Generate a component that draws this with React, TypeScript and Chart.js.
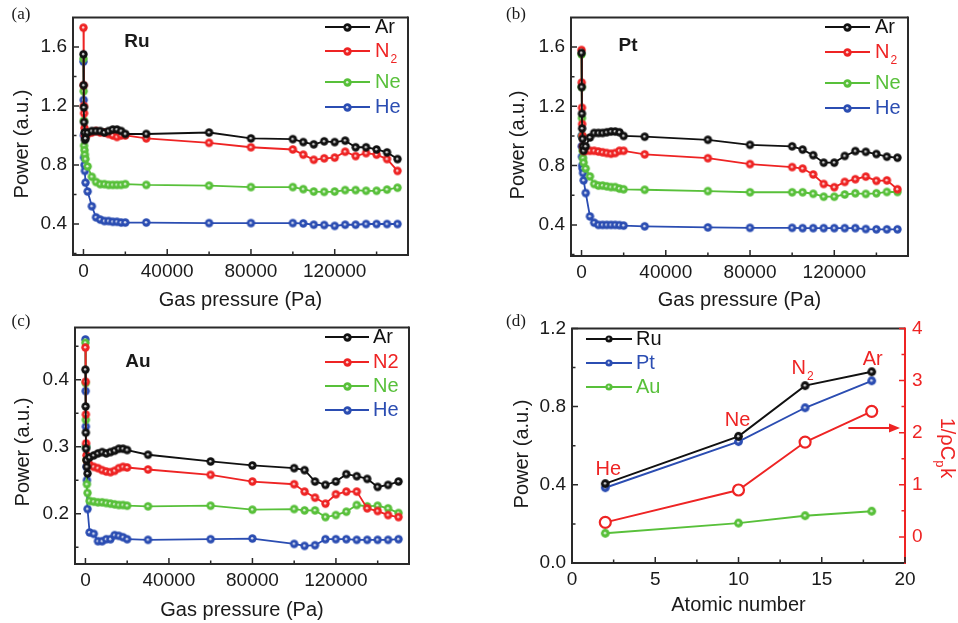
import React, { useEffect, useRef } from "react";
import { Chart, registerables } from "chart.js";

Chart.register(...registerables);

// ---------------- data ----------------
const PRESSURE = [0, 100, 200, 300, 500, 700, 1000, 2000, 4000, 6000, 8000, 10000, 12000, 14000, 16000, 18000, 20000, 30000, 60000, 80000, 100000, 105000, 110000, 115000, 120000, 125000, 130000, 135000, 140000, 145000, 150000];
const GAS_LABELS = ["Ar", "N2", "Ne", "He"];

const RU_AR = [1.55, 1.34, 1.19, 1.09, 1.02, 0.97, 0.98, 1.02, 1.03, 1.03, 1.03, 1.02, 1.03, 1.04, 1.04, 1.03, 1.01, 1.01, 1.02, 0.98, 0.975, 0.955, 0.94, 0.96, 0.955, 0.965, 0.92, 0.92, 0.905, 0.885, 0.84];
const RU_N2 = [1.73, 1.34, 1.2, 1.15, 1.05, 1.0, 1.0, 1.01, 1.02, 1.03, 1.02, 1.02, 1.01, 1.0, 0.99, 1.0, 1.0, 0.98, 0.95, 0.92, 0.905, 0.87, 0.835, 0.845, 0.85, 0.89, 0.86, 0.88, 0.87, 0.84, 0.76];
const RU_NE = [1.52, 1.3, 1.1, 0.93, 0.9, 0.87, 0.84, 0.79, 0.72, 0.685, 0.67, 0.67, 0.665, 0.665, 0.665, 0.665, 0.67, 0.665, 0.66, 0.65, 0.65, 0.636, 0.62, 0.618, 0.62, 0.63, 0.63, 0.625, 0.625, 0.633, 0.646];
const RU_HE = [1.5, 1.24, 1.0, 0.85, 0.8, 0.76, 0.68, 0.62, 0.52, 0.445, 0.43, 0.42, 0.42, 0.415, 0.415, 0.41, 0.41, 0.41, 0.406, 0.406, 0.406, 0.404, 0.395, 0.393, 0.387, 0.395, 0.395, 0.4, 0.4, 0.4, 0.4];

const PT_AR = [1.56, 1.33, 1.15, 1.05, 0.98, 0.93, 0.9, 0.93, 0.99, 1.02, 1.02, 1.02, 1.025, 1.03, 1.03, 1.025, 1.0, 0.995, 0.974, 0.94, 0.93, 0.908, 0.87, 0.82, 0.82, 0.865, 0.898, 0.893, 0.878, 0.86, 0.853];
const PT_N2 = [1.58, 1.36, 1.19, 1.08, 1.0, 0.93, 0.9, 0.9, 0.9, 0.9, 0.895, 0.89, 0.885, 0.88, 0.885, 0.9, 0.9, 0.876, 0.85, 0.81, 0.79, 0.78, 0.74, 0.676, 0.654, 0.69, 0.708, 0.726, 0.697, 0.7, 0.64];
const PT_NE = [1.55, 1.33, 1.12, 1.0, 0.9, 0.85, 0.82, 0.78, 0.727, 0.676, 0.665, 0.665, 0.66, 0.655, 0.655, 0.645, 0.64, 0.637, 0.628, 0.62, 0.62, 0.62, 0.61, 0.59, 0.59, 0.605, 0.613, 0.609, 0.613, 0.622, 0.622];
const PT_HE = [1.0, 0.93, 0.86, 0.8, 0.78, 0.75, 0.7, 0.615, 0.457, 0.415, 0.4, 0.4, 0.4, 0.4, 0.4, 0.398, 0.395, 0.39, 0.383, 0.38, 0.38, 0.378, 0.378, 0.378, 0.378, 0.378, 0.378, 0.372, 0.37, 0.37, 0.37];

const AU_AR = [0.415, 0.36, 0.321, 0.297, 0.28, 0.27, 0.26, 0.284, 0.287, 0.29, 0.292, 0.29, 0.292, 0.294, 0.297, 0.297, 0.295, 0.288, 0.278, 0.272, 0.268, 0.265, 0.248, 0.243, 0.248, 0.259, 0.256, 0.252, 0.24, 0.243, 0.248];
const AU_N2 = [0.448, 0.397, 0.348, 0.305, 0.287, 0.28, 0.278, 0.273, 0.27, 0.268, 0.265, 0.263, 0.262, 0.264, 0.268, 0.27, 0.269, 0.266, 0.258, 0.248, 0.244, 0.233, 0.224, 0.215, 0.229, 0.233, 0.233, 0.208, 0.204, 0.198, 0.195];
const AU_NE = [0.455, 0.395, 0.34, 0.3, 0.28, 0.244, 0.231, 0.219, 0.218, 0.217, 0.217, 0.216, 0.215, 0.214, 0.213, 0.213, 0.212, 0.211, 0.212, 0.206, 0.207, 0.205, 0.205, 0.195, 0.198, 0.203, 0.213, 0.211, 0.212, 0.208, 0.201];
const AU_HE = [0.46, 0.383, 0.33, 0.3, 0.27, 0.25, 0.207, 0.172, 0.17, 0.159, 0.159, 0.162, 0.162, 0.168, 0.167, 0.165, 0.162, 0.161, 0.162, 0.163, 0.155, 0.152, 0.153, 0.162, 0.162, 0.162, 0.161, 0.161, 0.161, 0.161, 0.162];

const PRESSURE_TICKS = [0, 40000, 80000, 120000];
const PRESSURE_MINOR = [20000, 60000, 100000, 140000];
const RU_PT_TICKS = [0.4, 0.8, 1.2, 1.6];
const RU_PT_MINOR = [0.2, 0.6, 1.0, 1.4];
const AU_TICKS = [0.2, 0.3, 0.4];
const AU_MINOR = [0.15, 0.25, 0.35, 0.45];

const ATOMIC_NUMBER = [2, 10, 14, 18];
const GAS_NAMES = ["He", "Ne", "N2", "Ar"];
const SUMMARY_RU = [0.406, 0.648, 0.907, 0.978];
const SUMMARY_PT = [0.385, 0.621, 0.794, 0.932];
const SUMMARY_AU = [0.152, 0.204, 0.242, 0.265];
const INV_RHO_CP_K = [0.28, 0.9, 1.82, 2.41];
const ATOMIC_TICKS = [0, 5, 10, 15, 20];
const ATOMIC_MINOR = [2.5, 7.5, 12.5, 17.5];
const POWER_D_TICKS = [0, 0.4, 0.8, 1.2];
const POWER_D_MINOR = [0.2, 0.6, 1.0];
const INV_TICKS = [0, 1, 2, 3, 4];
const INV_MINOR = [0.5, 1.5, 2.5, 3.5];

// ---------------- styling ----------------
const FONT = '"Liberation Sans", Arial, sans-serif';
const SERIF = '"Liberation Serif", "Times New Roman", serif';
const TEXT = "#1a1a1a";
const FRAME = "#2a2a2a";
const BLACK = "#111111";
const RED = "#ee2424";
const GREEN = "#58c03a";
const BLUE = "#2b4db2";
const GAS_COLORS = [BLACK, RED, GREEN, BLUE];

const markerCache: Record<string, HTMLCanvasElement> = {};
function markerImage(color: string, r: number): HTMLCanvasElement {
  const key = color + r;
  if (markerCache[key]) return markerCache[key];
  const size = Math.ceil(r * 2 + 2);
  const c = document.createElement("canvas");
  c.width = size;
  c.height = size;
  const g = c.getContext("2d") as CanvasRenderingContext2D;
  const m = size / 2;
  g.beginPath();
  g.arc(m, m, r, 0, Math.PI * 2);
  g.fillStyle = color;
  g.fill();
  g.beginPath();
  g.arc(m - 0.3, m - 0.3, r * 0.3, 0, Math.PI * 2);
  g.fillStyle = "rgba(255,255,255,0.8)";
  g.fill();
  markerCache[key] = c;
  return c;
}

function drawMarkerImg(ctx: CanvasRenderingContext2D, img: HTMLCanvasElement, x: number, y: number) {
  ctx.drawImage(img, Math.round(x - img.width / 2), Math.round(y - img.height / 2));
}

function drawLabel(ctx: CanvasRenderingContext2D, text: string, x: number, y: number, color: string, size: number, subscript: boolean, align: "left" | "center" = "left") {
  ctx.fillStyle = color;
  ctx.textBaseline = "middle";
  if (subscript && text.length === 2 && /\d/.test(text[1])) {
    ctx.font = `${size}px ${FONT}`;
    const w1 = ctx.measureText(text[0]).width;
    ctx.font = `${Math.round(size * 0.62)}px ${FONT}`;
    const w2 = ctx.measureText(text[1]).width;
    const sx = align === "center" ? x - (w1 + w2) / 2 : x;
    ctx.textAlign = "left";
    ctx.font = `${size}px ${FONT}`;
    ctx.fillText(text[0], sx, y);
    ctx.font = `${Math.round(size * 0.62)}px ${FONT}`;
    ctx.fillText(text[1], sx + w1 + 1, y + size * 0.42);
  } else {
    ctx.font = `${size}px ${FONT}`;
    ctx.textAlign = align;
    ctx.fillText(text, x, y);
  }
}

function drawYTitle(ctx: CanvasRenderingContext2D, text: string, x: number, y: number) {
  ctx.save();
  ctx.translate(x, y);
  ctx.rotate(-Math.PI / 2);
  ctx.fillStyle = TEXT;
  ctx.font = `20px ${FONT}`;
  ctx.textAlign = "center";
  ctx.textBaseline = "middle";
  ctx.fillText(text, 0, 0);
  ctx.restore();
}

function drawFrame(ctx: CanvasRenderingContext2D, a: any, rightColor: string) {
  ctx.save();
  ctx.lineWidth = 2;
  ctx.strokeStyle = FRAME;
  ctx.beginPath();
  ctx.moveTo(a.right, a.top);
  ctx.lineTo(a.left, a.top);
  ctx.lineTo(a.left, a.bottom);
  ctx.lineTo(a.right, a.bottom);
  ctx.stroke();
  ctx.strokeStyle = rightColor;
  ctx.beginPath();
  ctx.moveTo(a.right, a.top - 1);
  ctx.lineTo(a.right, a.bottom + 1);
  ctx.stroke();
  ctx.restore();
}

function drawTicksLeft(ctx: CanvasRenderingContext2D, scale: any, x: number, values: number[], len: number, dir: number, color: string) {
  ctx.save();
  ctx.strokeStyle = color;
  ctx.lineWidth = 1.5;
  ctx.beginPath();
  values.forEach((v) => {
    const y = scale.getPixelForValue(v);
    ctx.moveTo(x, y);
    ctx.lineTo(x + dir * len, y);
  });
  ctx.stroke();
  ctx.restore();
}

function drawTicksBottom(ctx: CanvasRenderingContext2D, scale: any, y: number, values: number[], len: number) {
  ctx.save();
  ctx.strokeStyle = FRAME;
  ctx.lineWidth = 1.5;
  ctx.beginPath();
  values.forEach((v) => {
    const x = scale.getPixelForValue(v);
    ctx.moveTo(x, y);
    ctx.lineTo(x, y - len);
  });
  ctx.stroke();
  ctx.restore();
}

type PressureSpec = {
  tag: string;
  metal: string;
  series: number[][];
  n2Sub: boolean;
  yMin: number;
  yMax: number;
  yTicks: number[];
  yMinor: number[];
  yWidth: number;
  yTitlePos: [number, number];
  xHeight: number;
  xTitlePad: number;
  padRight: number;
  tagPos: [number, number];
  metalPos: [number, number];
  legend: { x0: number; x1: number; tx: number; ys: number[] };
};

const MARKER_R = 4.2;

function pressureConfig(spec: PressureSpec): any {
  const datasets = spec.series.map((vals, i) => ({
    label: GAS_LABELS[i],
    data: PRESSURE.map((x, j) => ({ x, y: vals[j] })),
    borderColor: GAS_COLORS[i],
    backgroundColor: GAS_COLORS[i],
    pointStyle: markerImage(GAS_COLORS[i], MARKER_R),
    borderWidth: 1.8,
    tension: 0,
  }));
  const decor = {
    id: "decor",
    afterDraw(chart: any) {
      const ctx = chart.ctx as CanvasRenderingContext2D;
      const a = chart.chartArea;
      drawFrame(ctx, a, FRAME);
      drawTicksLeft(ctx, chart.scales.y, a.left, spec.yTicks, 6, 1, FRAME);
      drawTicksLeft(ctx, chart.scales.y, a.left, spec.yMinor, 3.5, 1, FRAME);
      drawTicksBottom(ctx, chart.scales.x, a.bottom, PRESSURE_TICKS, 6);
      drawTicksBottom(ctx, chart.scales.x, a.bottom, PRESSURE_MINOR, 3.5);
      drawYTitle(ctx, "Power (a.u.)", spec.yTitlePos[0], spec.yTitlePos[1]);
      ctx.save();
      ctx.fillStyle = TEXT;
      ctx.font = `17px ${SERIF}`;
      ctx.textAlign = "center";
      ctx.textBaseline = "middle";
      ctx.fillText(spec.tag, spec.tagPos[0], spec.tagPos[1]);
      ctx.font = `bold 19px ${FONT}`;
      ctx.fillText(spec.metal, spec.metalPos[0], spec.metalPos[1]);
      const L = spec.legend;
      GAS_LABELS.forEach((g, i) => {
        const y = L.ys[i];
        const c = GAS_COLORS[i];
        ctx.strokeStyle = c;
        ctx.lineWidth = 1.8;
        ctx.beginPath();
        ctx.moveTo(L.x0, y);
        ctx.lineTo(L.x1, y);
        ctx.stroke();
        drawMarkerImg(ctx, markerImage(c, MARKER_R), (L.x0 + L.x1) / 2, y);
        drawLabel(ctx, g, L.tx, y, c, 20, spec.n2Sub);
      });
      ctx.restore();
    },
  };
  return {
    type: "line",
    data: { datasets },
    options: {
      animation: false,
      responsive: false,
      layout: { padding: { top: 10, right: spec.padRight, left: 0, bottom: 0 }, autoPadding: false },
      plugins: { legend: { display: false }, tooltip: { enabled: false } },
      scales: {
        x: {
          type: "linear",
          min: -5000,
          max: 155000,
          afterBuildTicks: (s: any) => {
            s.ticks = PRESSURE_TICKS.map((v) => ({ value: v }));
          },
          afterFit: (s: any) => {
            s.height = spec.xHeight;
          },
          grid: { display: false, drawTicks: false },
          border: { display: false },
          ticks: {
            color: TEXT,
            font: { size: 19, family: FONT },
            padding: 5,
            maxRotation: 0,
            autoSkip: false,
            callback: (v: any) => String(v),
          },
          title: {
            display: true,
            text: "Gas pressure (Pa)",
            color: TEXT,
            font: { size: 20, family: FONT, lineHeight: 1 },
            padding: { top: 0, bottom: spec.xTitlePad },
          },
        },
        y: {
          type: "linear",
          min: spec.yMin,
          max: spec.yMax,
          afterBuildTicks: (s: any) => {
            s.ticks = spec.yTicks.map((v) => ({ value: v }));
          },
          afterFit: (s: any) => {
            s.width = spec.yWidth;
          },
          grid: { display: false, drawTicks: false },
          border: { display: false },
          ticks: {
            color: TEXT,
            font: { size: 19, family: FONT },
            padding: 6,
            autoSkip: false,
            callback: (v: any) => Number(v).toFixed(1),
          },
        },
      },
    },
    plugins: [decor],
  };
}

function summaryConfig(): any {
  const mk = (label: string, vals: number[], color: string) => ({
    label,
    data: ATOMIC_NUMBER.map((x, j) => ({ x, y: vals[j] })),
    borderColor: color,
    backgroundColor: color,
    pointStyle: markerImage(color, 4.4),
    borderWidth: 1.9,
    yAxisID: "y",
  });
  const datasets: any[] = [
    mk("Ru", SUMMARY_RU, BLACK),
    mk("Pt", SUMMARY_PT, BLUE),
    mk("Au", SUMMARY_AU, GREEN),
    {
      label: "1/ρCpk",
      data: ATOMIC_NUMBER.map((x, j) => ({ x, y: INV_RHO_CP_K[j] })),
      borderColor: RED,
      backgroundColor: "#ffffff",
      pointBackgroundColor: "#ffffff",
      pointBorderColor: RED,
      pointRadius: 5.5,
      pointBorderWidth: 2.2,
      borderWidth: 1.9,
      yAxisID: "y2",
    },
  ];
  const labelOffsets = [
    [3, -14],
    [-1, -16],
    [-3, -17],
    [1, -12],
  ];
  const legend = [
    { t: "Ru", c: BLACK },
    { t: "Pt", c: BLUE },
    { t: "Au", c: GREEN },
  ];
  const decor = {
    id: "decorD",
    afterDraw(chart: any) {
      const ctx = chart.ctx as CanvasRenderingContext2D;
      const a = chart.chartArea;
      const xs = chart.scales.x;
      const ys = chart.scales.y;
      const y2 = chart.scales.y2;
      drawFrame(ctx, a, RED);
      drawTicksLeft(ctx, ys, a.left, POWER_D_TICKS, 6, 1, FRAME);
      drawTicksLeft(ctx, ys, a.left, POWER_D_MINOR, 3.5, 1, FRAME);
      drawTicksLeft(ctx, y2, a.right, INV_TICKS, 6, -1, RED);
      drawTicksLeft(ctx, y2, a.right, INV_MINOR, 3.5, -1, RED);
      drawTicksBottom(ctx, xs, a.bottom, ATOMIC_TICKS, 6);
      drawTicksBottom(ctx, xs, a.bottom, ATOMIC_MINOR, 3.5);
      drawYTitle(ctx, "Power (a.u.)", 42, 144);
      ctx.save();
      ctx.fillStyle = TEXT;
      ctx.font = `17px ${SERIF}`;
      ctx.textAlign = "center";
      ctx.textBaseline = "middle";
      ctx.fillText("(d)", 36, 12);
      legend.forEach((e, i) => {
        const y = 29 + i * 24;
        ctx.strokeStyle = e.c;
        ctx.lineWidth = 1.8;
        ctx.beginPath();
        ctx.moveTo(106, y);
        ctx.lineTo(152, y);
        ctx.stroke();
        drawMarkerImg(ctx, markerImage(e.c, 3.6), 129, y);
        drawLabel(ctx, e.t, 156, y, e.c, 20, false);
      });
      GAS_NAMES.forEach((g, i) => {
        const px = xs.getPixelForValue(ATOMIC_NUMBER[i]) + labelOffsets[i][0];
        const py = ys.getPixelForValue(SUMMARY_RU[i]) + labelOffsets[i][1];
        drawLabel(ctx, g, px, py, RED, 20, true, "center");
      });
      const ay = y2.getPixelForValue(2.09);
      const ax0 = xs.getPixelForValue(16.6);
      const ax1 = a.right - 5;
      ctx.strokeStyle = RED;
      ctx.fillStyle = RED;
      ctx.lineWidth = 2;
      ctx.beginPath();
      ctx.moveTo(ax0, ay);
      ctx.lineTo(ax1 - 8, ay);
      ctx.stroke();
      ctx.beginPath();
      ctx.moveTo(ax1, ay);
      ctx.lineTo(ax1 - 11, ay - 4.5);
      ctx.lineTo(ax1 - 11, ay + 4.5);
      ctx.closePath();
      ctx.fill();
      // right axis title 1/ρCpk rotated clockwise
      ctx.translate(467, 138);
      ctx.rotate(Math.PI / 2);
      ctx.textBaseline = "middle";
      ctx.textAlign = "left";
      const big = `20px ${FONT}`;
      const small = `13px ${FONT}`;
      ctx.font = big;
      const w1 = ctx.measureText("1/ρC").width;
      const w3 = ctx.measureText("k").width;
      ctx.font = small;
      const w2 = ctx.measureText("p").width;
      const total = w1 + w2 + w3 + 1;
      const sx = -total / 2;
      ctx.font = big;
      ctx.fillText("1/ρC", sx, 0);
      ctx.font = small;
      ctx.fillText("p", sx + w1, 7);
      ctx.font = big;
      ctx.fillText("k", sx + w1 + w2 + 1, 0);
      ctx.restore();
    },
  };
  return {
    type: "line",
    data: { datasets },
    options: {
      animation: false,
      responsive: false,
      layout: { padding: { top: 10, right: 0, left: 0, bottom: 0 }, autoPadding: false },
      plugins: { legend: { display: false }, tooltip: { enabled: false } },
      scales: {
        x: {
          type: "linear",
          min: 0,
          max: 20,
          afterBuildTicks: (s: any) => {
            s.ticks = ATOMIC_TICKS.map((v) => ({ value: v }));
          },
          afterFit: (s: any) => {
            s.height = 60;
          },
          grid: { display: false, drawTicks: false },
          border: { display: false },
          ticks: { color: TEXT, font: { size: 19, family: FONT }, padding: 5, maxRotation: 0, autoSkip: false },
          title: {
            display: true,
            text: "Atomic number",
            color: TEXT,
            font: { size: 20, family: FONT, lineHeight: 1 },
            padding: { top: 0, bottom: 8 },
          },
        },
        y: {
          type: "linear",
          position: "left",
          min: 0,
          max: 1.2,
          afterBuildTicks: (s: any) => {
            s.ticks = POWER_D_TICKS.map((v) => ({ value: v }));
          },
          afterFit: (s: any) => {
            s.width = 92;
          },
          grid: { display: false, drawTicks: false },
          border: { display: false },
          ticks: {
            color: TEXT,
            font: { size: 19, family: FONT },
            padding: 6,
            autoSkip: false,
            callback: (v: any) => Number(v).toFixed(1),
          },
        },
        y2: {
          type: "linear",
          position: "right",
          min: -0.5,
          max: 4,
          afterBuildTicks: (s: any) => {
            s.ticks = INV_TICKS.map((v) => ({ value: v }));
          },
          afterFit: (s: any) => {
            s.width = 53;
          },
          grid: { display: false, drawTicks: false },
          border: { display: false },
          ticks: {
            color: RED,
            font: { size: 19, family: FONT },
            padding: 7,
            autoSkip: false,
            callback: (v: any) => String(v),
          },
        },
      },
    },
    plugins: [decor],
  };
}

function Panel({ left, top, width, height, build }: { left: number; top: number; width: number; height: number; build: () => any }) {
  const ref = useRef<HTMLCanvasElement>(null);
  useEffect(() => {
    const chart = new Chart(ref.current as HTMLCanvasElement, build());
    return () => chart.destroy();
  }, []);
  return (
    <div style={{ position: "absolute", left, top, width, height }}>
      <canvas ref={ref} width={width} height={height} style={{ width, height, display: "block" }} />
    </div>
  );
}

const SPEC_A: PressureSpec = {
  tag: "(a)",
  metal: "Ru",
  series: [RU_AR, RU_N2, RU_NE, RU_HE],
  n2Sub: true,
  yMin: 0.19,
  yMax: 1.8,
  yTicks: RU_PT_TICKS,
  yMinor: RU_PT_MINOR,
  yWidth: 73,
  yTitlePos: [22, 144],
  xHeight: 55,
  xTitlePad: 0,
  padRight: 72,
  tagPos: [21, 15],
  metalPos: [137, 42],
  legend: { x0: 325, x1: 370, tx: 375, ys: [27, 51, 82, 107] },
};

const SPEC_B: PressureSpec = {
  tag: "(b)",
  metal: "Pt",
  series: [PT_AR, PT_N2, PT_NE, PT_HE],
  n2Sub: true,
  yMin: 0.19,
  yMax: 1.8,
  yTicks: RU_PT_TICKS,
  yMinor: RU_PT_MINOR,
  yWidth: 91,
  yTitlePos: [38, 145],
  xHeight: 54,
  xTitlePad: 0,
  padRight: 50,
  tagPos: [36, 15],
  metalPos: [148, 46],
  legend: { x0: 345, x1: 390, tx: 395, ys: [27, 52, 83, 108] },
};

const SPEC_C: PressureSpec = {
  tag: "(c)",
  metal: "Au",
  series: [AU_AR, AU_N2, AU_NE, AU_HE],
  n2Sub: false,
  yMin: 0.125,
  yMax: 0.478,
  yTicks: AU_TICKS,
  yMinor: AU_MINOR,
  yWidth: 75,
  yTitlePos: [23, 142],
  xHeight: 59,
  xTitlePad: 3,
  padRight: 71,
  tagPos: [21, 12],
  metalPos: [138, 52],
  legend: { x0: 325, x1: 369, tx: 373, ys: [27, 52, 76, 100] },
};

export default function App() {
  return (
    <div style={{ position: "absolute", left: 0, top: 0, width: 958, height: 623, background: "#ffffff", overflow: "hidden" }}>
      <Panel left={0} top={0} width={480} height={310} build={() => pressureConfig(SPEC_A)} />
      <Panel left={480} top={0} width={478} height={310} build={() => pressureConfig(SPEC_B)} />
      <Panel left={0} top={310} width={480} height={313} build={() => pressureConfig(SPEC_C)} />
      <Panel left={480} top={310} width={478} height={313} build={summaryConfig} />
    </div>
  );
}
